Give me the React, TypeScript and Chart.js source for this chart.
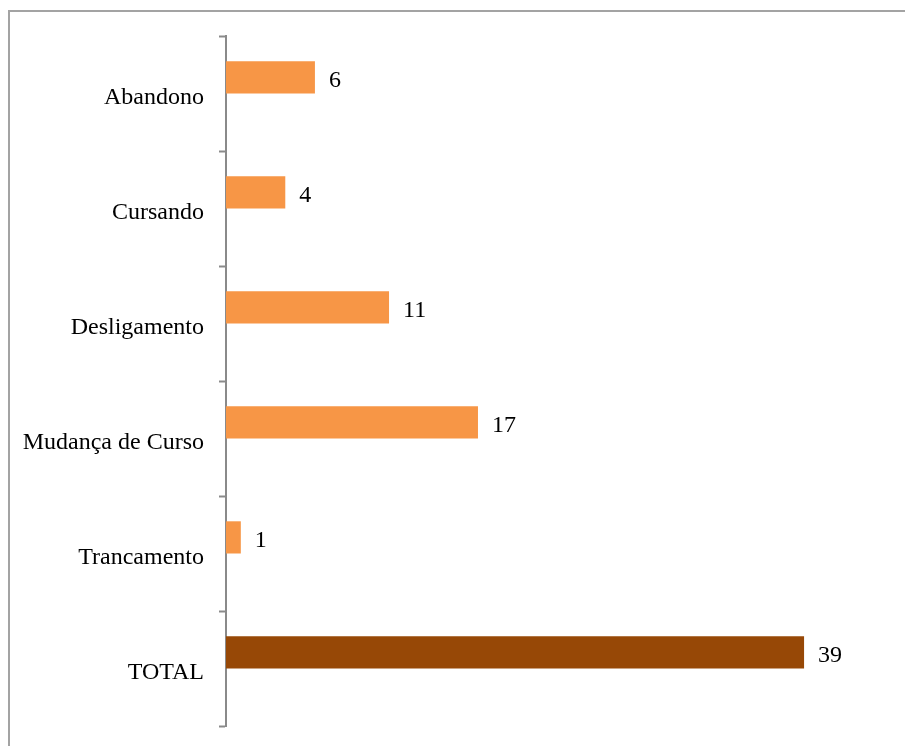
import React, { useEffect, useRef } from "react";
import { Chart, registerables } from "chart.js";

Chart.register(...registerables);

const categories = ["Abandono", "Cursando", "Desligamento", "Mudança de Curso", "Trancamento", "TOTAL"];
const values = [6, 4, 11, 17, 1, 39];
const emptySeries = [null, null, null, null, null, null];
const barColors = ["#F79646", "#F79646", "#F79646", "#F79646", "#F79646", "#974806"];

const FONT = "'Liberation Serif', 'Times New Roman', serif";

const framePlugin = {
  id: "frame",
  beforeDraw(chart: any) {
    const ctx = chart.ctx;
    ctx.save();
    ctx.fillStyle = "#ffffff";
    ctx.fillRect(0, 0, chart.width, chart.height);
    ctx.strokeStyle = "#a3a3a3";
    ctx.lineWidth = 2;
    ctx.strokeRect(9, 11, chart.width + 20, chart.height + 20);
    ctx.restore();
  },
};

const labelPlugin = {
  id: "valueLabels",
  afterDatasetsDraw(chart: any) {
    const ctx = chart.ctx;
    const meta = chart.getDatasetMeta(0);
    ctx.save();
    ctx.font = `24px ${FONT}`;
    ctx.fillStyle = "#000000";
    ctx.textAlign = "left";
    ctx.textBaseline = "middle";
    meta.data.forEach((bar: any, i: number) => {
      const v = values[i];
      ctx.fillText(String(v), bar.x + 14, bar.y + 3);
    });
    ctx.restore();
  },
};

export default function App() {
  const ref = useRef<HTMLCanvasElement>(null);
  useEffect(() => {
    if (!ref.current) return;
    const chart = new Chart(ref.current, {
      type: "bar",
      data: {
        labels: categories,
        datasets: [
          {
            data: values,
            backgroundColor: barColors,
            borderWidth: 0,
            categoryPercentage: 0.56,
            barPercentage: 1,
          },
          {
            data: emptySeries as any,
            backgroundColor: "#4F81BD",
            categoryPercentage: 0.56,
            barPercentage: 1,
          },
        ],
      },
      options: {
        indexAxis: "y",
        responsive: false,
        animation: false,
        layout: { padding: { top: 36, bottom: 20, left: 0, right: 12 } },
        plugins: { legend: { display: false }, tooltip: { enabled: false } },
        scales: {
          x: { display: false, min: 0, max: 45 },
          y: {
            afterFit: (s: any) => {
              s.width = 226;
              s.paddingTop = 0;
              s.paddingBottom = 0;
            },
            grid: {
              drawOnChartArea: false,
              drawTicks: true,
              tickLength: 7,
              tickWidth: 2,
              color: "#8a8a8a",
              offset: true,
            },
            border: { display: true, color: "#8a8a8a", width: 2 },
            ticks: {
              padding: 15,
              labelOffset: 4,
              color: "#000000",
              font: { family: FONT, size: 24 },
            },
          },
        },
      },
      plugins: [framePlugin, labelPlugin],
    });
    return () => chart.destroy();
  }, []);
  return (
    <div style={{ position: "fixed", left: 0, top: 0, width: 905, height: 746, overflow: "hidden", background: "#fff" }}>
      <canvas ref={ref} width={905} height={746} />
    </div>
  );
}
